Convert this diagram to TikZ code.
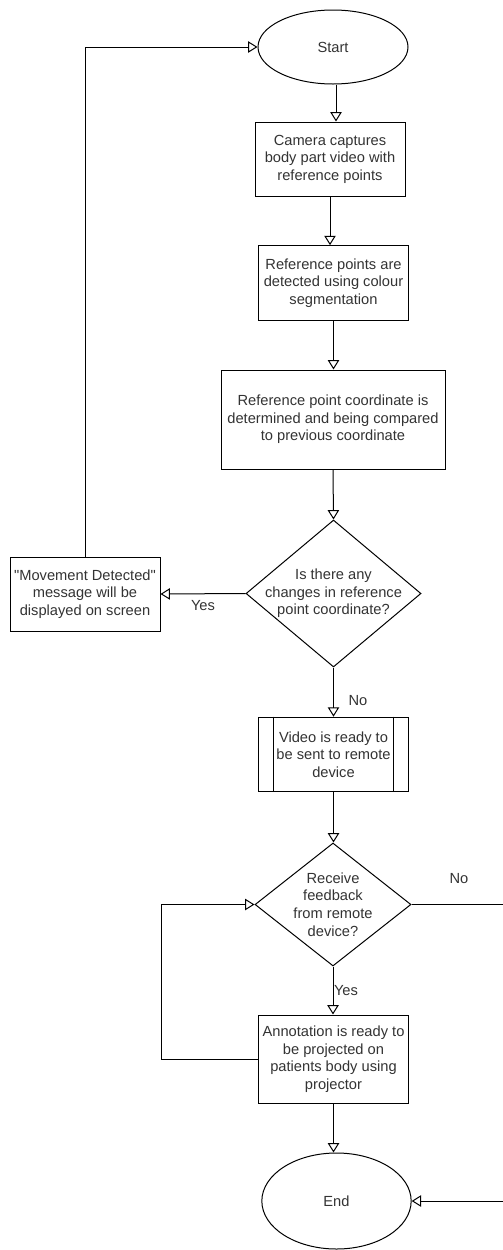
\documentclass[tikz,border=0pt]{standalone}
\usepackage{fontspec}
\setmainfont{Liberation Sans}[Ligatures=TeXOff]
\usetikzlibrary{shapes.geometric,arrows.meta}
\definecolor{txtc}{HTML}{333333}
\begin{document}
\begin{tikzpicture}[x=0.75pt,y=-0.75pt,
  every node/.style={font=\fontsize{11}{13.2}\selectfont, text=txtc},
  line/.style={draw=black, line width=0.75pt},
  arr/.style={line, -{Triangle[open,length=7pt,width=8.5pt]}},
  procbox/.style={draw=black, line width=0.75pt, rectangle, align=center, inner sep=0pt},
  term/.style={draw=black, line width=0.75pt, ellipse, inner sep=0pt, minimum width=112.5pt},
  decision/.style={draw=black, line width=0.75pt, diamond, inner sep=0pt, aspect=1},
  lbl/.style={inner sep=0pt}
]
\useasboundingbox (0,0) rectangle (503,1250);

\node[term, minimum width=112.5pt, minimum height=55.5pt] (start) at (333,47) {Start};
\node[procbox, minimum width=112.5pt, minimum height=55.5pt] (cam) at (330,159) {Camera captures\\body part video with\\reference points};
\node[procbox, minimum width=112pt, minimum height=56pt] (ref) at (333.5,283) {Reference points are\\detected using colour\\segmentation};
\node[procbox, minimum width=168pt, minimum height=74.25pt] (coord) at (333,419.5) {Reference point coordinate is\\determined and being compared\\to previous coordinate};
\node[decision, minimum width=131.25pt, minimum height=110.25pt] (d1) at (333.5,593.5) {};
\node[lbl, align=center] (d1t) at (333.5,593.5) {Is there any\\changes in reference\\point coordinate?};
\node[procbox, minimum width=112.5pt, minimum height=55.5pt] (md) at (85,594) {"Movement Detected"\\message will be\\displayed on screen};
\node[procbox, minimum width=112pt, minimum height=56pt] (vid) at (333.5,754.5) {Video is ready to\\be sent to remote\\device};
\draw[line] ([xshift=11.25pt]vid.north west) -- ([xshift=11.25pt]vid.south west);
\draw[line] ([xshift=-11.25pt]vid.north east) -- ([xshift=-11.25pt]vid.south east);
\node[decision, minimum width=117pt, minimum height=92.25pt] (d2) at (333,904.5) {};
\node[lbl, align=center] (d2t) at (333,904.5) {Receive\\feedback\\from remote\\device?};
\node[procbox, minimum width=112pt, minimum height=66pt] (ann) at (333.5,1059) {Annotation is ready to\\be projected on\\patients body using\\projector};
\node[term, minimum width=112pt, minimum height=72pt] (end) at (336.5,1201) {End};

% connectors
\draw[arr] (start.south -| 336,0) -- (cam.north -| 336,0);
\draw[arr] (cam.south) -- (cam.south |- ref.north);
\draw[arr] (ref.south) -- (coord.north -| ref.south);
\draw[arr] (coord.south) -- (d1.north);
\draw[arr] (d1.west) -- (md.east);
\node[lbl] (yes1) at (203,606) {Yes};
\draw[arr] (md.north) |- (start.west);
\draw[arr] (d1.south) -- (vid.north -| d1.south);
\node[lbl] (no1) at (358,701) {No};
\draw[arr] (vid.south) -- (d2.north -| vid.south);
\coordinate (rr) at (530,904.5);
\draw[arr] (d2.east) -- (rr) |- (end.east);
\node[lbl] (no2) at (459,879) {No};
\draw[arr] (d2.south) -- (ann.north -| d2.south);
\node[lbl] (yes2) at (346,991) {Yes};
\coordinate (ll) at (161,1059);
\draw[arr] (ann.west) -- (ll) |- (d2.west);
\draw[arr] (ann.south) -- (ann.south |- end.north);
\end{tikzpicture}
\end{document}
